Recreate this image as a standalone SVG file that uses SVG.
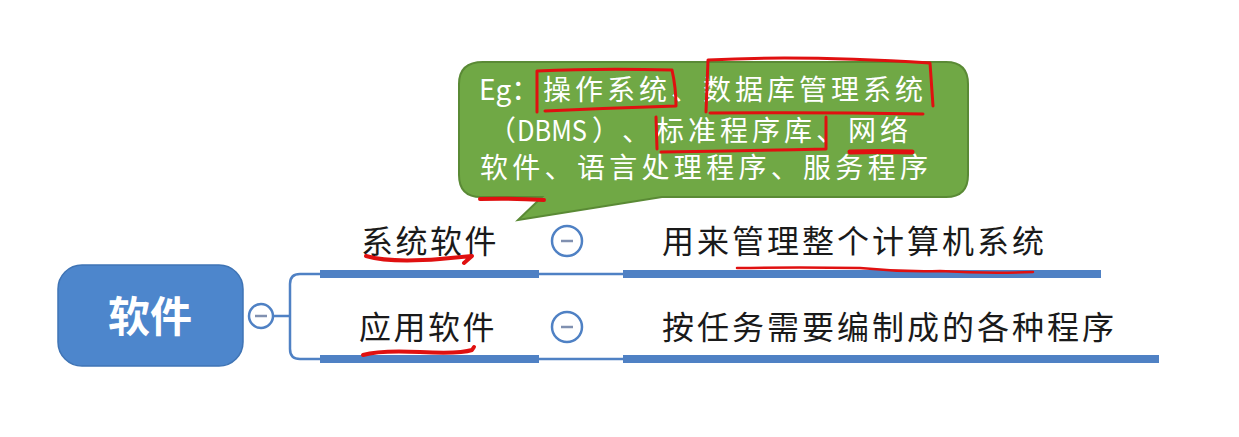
<svg xmlns="http://www.w3.org/2000/svg" width="1239" height="437" viewBox="0 0 1239 437">
<style>
.bar{fill:#4f81c4}
.ln{fill:none;stroke:#4f81c4;stroke-width:2.5}
.tog{fill:#fff;stroke:#4f81c4;stroke-width:2.5}
.minus{stroke:#8090b0;stroke-width:2.5}
.lbl{font-family:"Noto Sans CJK SC","Noto Sans",sans-serif;font-size:32px;fill:#1a1a1a;letter-spacing:2.5px}
.bub{font-family:"Noto Sans CJK SC","Noto Sans",sans-serif;font-size:28px;fill:#fff;letter-spacing:4px}
.lat{letter-spacing:0}
.red{fill:none;stroke:#e01010;stroke-width:3;stroke-linecap:round;stroke-linejoin:round}
</style>
<rect width="1239" height="437" fill="#fff"/>
<g id="connectors">
<path class="ln" d="M272,316 H290 M300,274 Q290,274 290,284 V349 Q290,359 300,359 H322"/>
<path class="ln" d="M300,274 H322"/>
<line class="ln" x1="539" y1="274" x2="625" y2="274"/>
<line class="ln" x1="539" y1="359" x2="625" y2="359"/>
</g>
<g id="root">
<rect x="58" y="265" width="185" height="101" rx="24" fill="#4d86cc" stroke="#3f74b5" stroke-width="1.5"/>
<text x="150" y="332" text-anchor="middle" font-family="'Noto Sans CJK SC',sans-serif" font-weight="bold" font-size="42" fill="#fff">软件</text>
<circle class="tog" cx="261" cy="316" r="12"/>
<line class="minus" x1="255" y1="316" x2="267" y2="316"/>
</g>
<g id="sys">
<text class="lbl" x="361" y="253">系统软件</text>
<rect class="bar" x="320" y="270" width="219" height="8"/>
<circle class="tog" cx="567" cy="241" r="15"/>
<line class="minus" x1="561" y1="241" x2="573" y2="241"/>
</g>
<g id="app">
<text class="lbl" x="359" y="339">应用软件</text>
<rect class="bar" x="320" y="355" width="219" height="8"/>
<circle class="tog" cx="567" cy="327" r="15"/>
<line class="minus" x1="561" y1="327" x2="573" y2="327"/>
</g>
<g id="sys-desc">
<text class="lbl" x="662" y="253" style="letter-spacing:3px">用来管理整个计算机系统</text>
<rect class="bar" x="623" y="270" width="478" height="8"/>
</g>
<g id="app-desc">
<text class="lbl" x="662" y="339" style="letter-spacing:3px">按任务需要编制成的各种程序</text>
<rect class="bar" x="623" y="355" width="536" height="8"/>
</g>
<g id="callout">
<path d="M483,62 H946 Q968,62 968,84 V175 Q968,197 946,197 H662 L518,220 L542,197 H481 Q459,197 459,175 V84 Q459,62 483,62 Z" fill="#70a845" stroke="#5a8a35" stroke-width="2"/>
<text class="bub" x="479" y="100"><tspan class="lat">Eg：</tspan><tspan x="543">操作系统、数据库管理系统</tspan></text>
<text class="bub" x="488" y="141"><tspan class="lat">（</tspan><tspan class="lat" x="517" textLength="70" lengthAdjust="spacingAndGlyphs">DBMS</tspan><tspan class="lat" x="592">）</tspan><tspan class="lat" x="622">、</tspan><tspan x="656">标准程序库、网络</tspan></text>
<text class="bub" x="480" y="178" textLength="452" lengthAdjust="spacing">软件、语言处理程序、服务程序</text>
</g>
<g id="annotations">
<path class="red" d="M537,112 L537,71 Q600,68 672,70 Q676,88 676,106 Q610,108 545,111"/>
<path class="red" d="M706,112 L708,60 Q800,55 930,63 L933,106 M710,113 Q820,112 923,114"/>
<path class="red" d="M656,117 L657,149 M661,152 Q740,151 826,149 L826,117"/>
<path class="red" d="M850,152 Q880,151 912,152" style="stroke-width:5"/>
<path class="red" d="M480,199 Q512,198 544,200" style="stroke-width:4"/>
<path class="red" d="M366,256 Q390,263 440,259 L472,256 L464,263" style="stroke-width:4"/>
<path class="red" d="M363,355 Q380,350 420,352 Q460,354 472,350 L474,347" style="stroke-width:4"/>
<path class="red" d="M737,268 Q800,267 860,268 Q900,272 940,271 Q990,274 1033,272" style="stroke-width:2.5"/>
</g>
</svg>
